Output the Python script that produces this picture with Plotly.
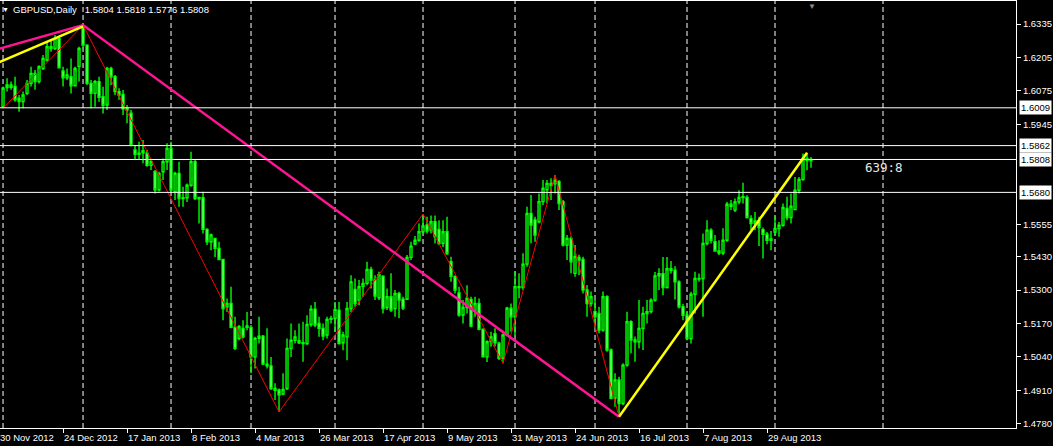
import plotly.graph_objects as go

# ---- data (bar index 0 = 3 Dec 2012, one bar per trading day) ----
opens = [1.6013, 1.6088, 1.6098, 1.6092, 1.6046, 1.6033, 1.6065, 1.6104, 1.6143, 1.6111,
         1.6162, 1.6195, 1.6247, 1.6240, 1.6279, 1.6152, 1.6126, 1.6130, 1.6095, 1.6170,
         1.6321, 1.6253, 1.6104, 1.6065, 1.6111, 1.6052, 1.6020, 1.6162, 1.6130, 1.6072,
         1.6061, 1.6007, 1.5988, 1.5845, 1.5828, 1.5834, 1.5832, 1.5785, 1.5760, 1.5690,
         1.5760, 1.5799, 1.5851, 1.5682, 1.5754, 1.5656, 1.5659, 1.5708, 1.5799, 1.5660,
         1.5659, 1.5536, 1.5488, 1.5501, 1.5462, 1.5419, 1.5235, 1.5248, 1.5155, 1.5112,
         1.5151, 1.5155, 1.5155, 1.5040, 1.5112, 1.5121, 1.5012, 1.5005, 1.4917, 1.4911,
         1.4895, 1.4917, 1.5073, 1.5105, 1.5103, 1.5095, 1.5092, 1.5166, 1.5226, 1.5170,
         1.5151, 1.5125, 1.5186, 1.5190, 1.5222, 1.5095, 1.5118, 1.5228, 1.5302, 1.5261,
         1.5315, 1.5326, 1.5380, 1.5339, 1.5270, 1.5354, 1.5232, 1.5274, 1.5228, 1.5287,
         1.5264, 1.5264, 1.5427, 1.5479, 1.5494, 1.5527, 1.5553, 1.5533, 1.5566, 1.5536,
         1.5481, 1.5527, 1.5410, 1.5352, 1.5289, 1.5203, 1.5232, 1.5263, 1.5222, 1.5248,
         1.5147, 1.5040, 1.5099, 1.5130, 1.5093, 1.5035, 1.5125, 1.5229, 1.5196, 1.5313,
         1.5310, 1.5401, 1.5598, 1.5573, 1.5566, 1.5644, 1.5690, 1.5715, 1.5713, 1.5722,
         1.5644, 1.5475, 1.5501, 1.5365, 1.5427, 1.5419, 1.5300, 1.5248, 1.5216, 1.5209,
         1.5144, 1.5274, 1.5067, 1.4880, 1.4950, 1.4859, 1.5008, 1.5177, 1.5106, 1.5099,
         1.5151, 1.5209, 1.5216, 1.5261, 1.5355, 1.5364, 1.5310, 1.5383, 1.5377, 1.5332,
         1.5235, 1.5202, 1.5111, 1.5284, 1.5345, 1.5345, 1.5481, 1.5533, 1.5488, 1.5452,
         1.5444, 1.5494, 1.5634, 1.5611, 1.5643, 1.5660, 1.5660, 1.5578, 1.5559, 1.5569,
         1.5535, 1.5517, 1.5494, 1.5526, 1.5539, 1.5552, 1.5617, 1.5582, 1.5613, 1.5688,
         1.5730, 1.5812, 1.5804]
highs = [1.6092, 1.6124, 1.6111, 1.6130, 1.6059, 1.6072, 1.6117, 1.6169, 1.6156, 1.6175,
         1.6214, 1.6266, 1.6273, 1.6292, 1.6286, 1.6169, 1.6162, 1.6201, 1.6169, 1.6247,
         1.6331, 1.6256, 1.6117, 1.6117, 1.6130, 1.6091, 1.6169, 1.6169, 1.6137, 1.6085,
         1.6078, 1.6020, 1.6000, 1.5864, 1.5877, 1.5884, 1.5845, 1.5806, 1.5767, 1.5760,
         1.5812, 1.5871, 1.5877, 1.5760, 1.5799, 1.5702, 1.5715, 1.5838, 1.5806, 1.5663,
         1.5682, 1.5540, 1.5520, 1.5503, 1.5488, 1.5422, 1.5267, 1.5313, 1.5196, 1.5164,
         1.5183, 1.5215, 1.5164, 1.5118, 1.5196, 1.5125, 1.5151, 1.5040, 1.4937, 1.4917,
         1.4976, 1.5112, 1.5170, 1.5144, 1.5170, 1.5177, 1.5202, 1.5241, 1.5254, 1.5196,
         1.5170, 1.5196, 1.5200, 1.5254, 1.5254, 1.5138, 1.5254, 1.5358, 1.5345, 1.5339,
         1.5345, 1.5410, 1.5391, 1.5358, 1.5371, 1.5358, 1.5306, 1.5365, 1.5300, 1.5293,
         1.5274, 1.5436, 1.5488, 1.5510, 1.5559, 1.5596, 1.5585, 1.5590, 1.5590, 1.5572,
         1.5572, 1.5585, 1.5430, 1.5358, 1.5313, 1.5261, 1.5319, 1.5274, 1.5274, 1.5267,
         1.5151, 1.5105, 1.5138, 1.5151, 1.5099, 1.5132, 1.5235, 1.5248, 1.5371, 1.5365,
         1.5443, 1.5624, 1.5670, 1.5585, 1.5676, 1.5728, 1.5728, 1.5735, 1.5748, 1.5728,
         1.5650, 1.5514, 1.5508, 1.5475, 1.5437, 1.5430, 1.5320, 1.5294, 1.5261, 1.5235,
         1.5294, 1.5280, 1.5073, 1.4976, 1.4963, 1.5015, 1.5216, 1.5183, 1.5119, 1.5261,
         1.5235, 1.5261, 1.5268, 1.5370, 1.5385, 1.5429, 1.5429, 1.5413, 1.5393, 1.5338,
         1.5247, 1.5215, 1.5293, 1.5371, 1.5364, 1.5520, 1.5572, 1.5540, 1.5514, 1.5494,
         1.5540, 1.5643, 1.5650, 1.5656, 1.5688, 1.5717, 1.5669, 1.5591, 1.5604, 1.5585,
         1.5543, 1.5526, 1.5530, 1.5587, 1.5565, 1.5637, 1.5663, 1.5676, 1.5740, 1.5740,
         1.5831, 1.5834, 1.5818]
lows = [1.6007, 1.6072, 1.6079, 1.6033, 1.5994, 1.6007, 1.6059, 1.6092, 1.6079, 1.6104,
        1.6156, 1.6188, 1.6227, 1.6234, 1.6162, 1.6092, 1.6117, 1.6065, 1.6092, 1.6111,
        1.6240, 1.6098, 1.6007, 1.6013, 1.6033, 1.5987, 1.6000, 1.6098, 1.6059, 1.6040,
        1.5981, 1.5949, 1.5858, 1.5806, 1.5806, 1.5793, 1.5780, 1.5767, 1.5676, 1.5683,
        1.5728, 1.5767, 1.5682, 1.5650, 1.5624, 1.5624, 1.5643, 1.5702, 1.5650, 1.5559,
        1.5520, 1.5475, 1.5455, 1.5429, 1.5417, 1.5183, 1.5215, 1.5151, 1.5067, 1.5105,
        1.5112, 1.5144, 1.4976, 1.4995, 1.5092, 1.5008, 1.4995, 1.4911, 1.4872, 1.4826,
        1.4891, 1.4911, 1.5040, 1.5092, 1.5090, 1.5021, 1.5086, 1.5157, 1.5155, 1.5118,
        1.5105, 1.5112, 1.5170, 1.5138, 1.5088, 1.5066, 1.5027, 1.5215, 1.5235, 1.5241,
        1.5274, 1.5319, 1.5306, 1.5261, 1.5261, 1.5209, 1.5222, 1.5215, 1.5196, 1.5190,
        1.5222, 1.5261, 1.5417, 1.5475, 1.5488, 1.5520, 1.5520, 1.5520, 1.5481, 1.5475,
        1.5468, 1.5436, 1.5332, 1.5287, 1.5196, 1.5170, 1.5209, 1.5155, 1.5196, 1.5144,
        1.5038, 1.5020, 1.5079, 1.5080, 1.5028, 1.5015, 1.5119, 1.5138, 1.5125, 1.5268,
        1.5300, 1.5391, 1.5482, 1.5488, 1.5560, 1.5631, 1.5637, 1.5650, 1.5676, 1.5611,
        1.5469, 1.5417, 1.5365, 1.5352, 1.5359, 1.5287, 1.5196, 1.5235, 1.5157, 1.5132,
        1.5138, 1.5060, 1.4875, 1.4846, 1.4807, 1.4853, 1.5002, 1.5054, 1.5021, 1.5073,
        1.5067, 1.5170, 1.5209, 1.5255, 1.5300, 1.5280, 1.5306, 1.5364, 1.5263, 1.5228,
        1.5183, 1.5105, 1.5092, 1.5209, 1.5332, 1.5196, 1.5474, 1.5481, 1.5449, 1.5436,
        1.5436, 1.5488, 1.5611, 1.5604, 1.5634, 1.5637, 1.5578, 1.5533, 1.5533, 1.5471,
        1.5423, 1.5478, 1.5455, 1.5513, 1.5507, 1.5546, 1.5572, 1.5559, 1.5611, 1.5676,
        1.5725, 1.5766, 1.5776]
closes = [1.6085, 1.6098, 1.6089, 1.6040, 1.6033, 1.6059, 1.6104, 1.6143, 1.6111, 1.6169,
          1.6201, 1.6247, 1.6240, 1.6279, 1.6165, 1.6126, 1.6137, 1.6095, 1.6162, 1.6240,
          1.6253, 1.6104, 1.6065, 1.6111, 1.6050, 1.6018, 1.6162, 1.6130, 1.6072, 1.6059,
          1.6005, 1.6000, 1.5864, 1.5828, 1.5832, 1.5842, 1.5785, 1.5799, 1.5690, 1.5754,
          1.5799, 1.5851, 1.5689, 1.5754, 1.5656, 1.5659, 1.5708, 1.5799, 1.5656, 1.5655,
          1.5536, 1.5488, 1.5514, 1.5462, 1.5419, 1.5228, 1.5248, 1.5155, 1.5073, 1.5157,
          1.5118, 1.5160, 1.5040, 1.5112, 1.5121, 1.5012, 1.5005, 1.4917, 1.4910, 1.4893,
          1.4913, 1.5073, 1.5105, 1.5118, 1.5095, 1.5092, 1.5166, 1.5226, 1.5164, 1.5151,
          1.5121, 1.5186, 1.5190, 1.5225, 1.5092, 1.5125, 1.5228, 1.5332, 1.5248, 1.5313,
          1.5326, 1.5380, 1.5339, 1.5277, 1.5360, 1.5228, 1.5274, 1.5222, 1.5287, 1.5261,
          1.5230, 1.5427, 1.5471, 1.5494, 1.5527, 1.5549, 1.5530, 1.5566, 1.5507, 1.5481,
          1.5527, 1.5442, 1.5354, 1.5300, 1.5203, 1.5232, 1.5267, 1.5160, 1.5248, 1.5147,
          1.5040, 1.5099, 1.5118, 1.5095, 1.5035, 1.5125, 1.5229, 1.5196, 1.5313, 1.5310,
          1.5401, 1.5598, 1.5553, 1.5514, 1.5644, 1.5696, 1.5715, 1.5708, 1.5726, 1.5637,
          1.5475, 1.5501, 1.5410, 1.5430, 1.5417, 1.5300, 1.5248, 1.5274, 1.5196, 1.5144,
          1.5274, 1.5067, 1.4879, 1.4950, 1.4859, 1.5008, 1.5177, 1.5106, 1.5099, 1.5151,
          1.5209, 1.5216, 1.5261, 1.5355, 1.5364, 1.5310, 1.5383, 1.5377, 1.5332, 1.5235,
          1.5202, 1.5111, 1.5284, 1.5345, 1.5343, 1.5481, 1.5533, 1.5494, 1.5452, 1.5444,
          1.5494, 1.5634, 1.5626, 1.5643, 1.5660, 1.5663, 1.5582, 1.5559, 1.5569, 1.5543,
          1.5517, 1.5494, 1.5499, 1.5539, 1.5552, 1.5621, 1.5582, 1.5626, 1.5688, 1.5730,
          1.5812, 1.5804, 1.5808]

label_bars = [-1, 15, 31, 47, 63, 79, 95, 111, 127, 143, 159, 175, 191]
label_texts = ["30 Nov 2012", "24 Dec 2012", "17 Jan 2013", "8 Feb 2013", "4 Mar 2013",
               "26 Mar 2013", "17 Apr 2013", "9 May 2013", "31 May 2013", "24 Jun 2013",
               "16 Jul 2013", "7 Aug 2013", "29 Aug 2013"]
separator_bars = [0, 20, 42, 62, 83, 105, 128, 148, 171, 193, 220]
price_ticks = [1.6335, 1.6205, 1.6075, 1.5945, 1.5555, 1.5430, 1.5300, 1.5170, 1.5040, 1.4910, 1.4780]
level_prices = [1.6009, 1.5862, 1.5808, 1.5680]

zigzag_bars = [0, 20, 69, 105, 125, 138, 154, 201]
zigzag_prices = [1.6007, 1.6331, 1.4826, 1.5596, 1.5015, 1.5748, 1.4807, 1.5834]
pink_bars = [-10, 20, 154]
pink_prices = [1.6199, 1.6331, 1.4807]
yellow_bars = [-10, 20, None, 154, 201]
yellow_prices = [1.6126, 1.6326, None, 1.4807, 1.5834]

title_text = "GBPUSD,Daily\u00a0\u00a0\u00a01.5804 1.5818 1.5776 1.5808"
timer_text = "639:8"

FONT = "Liberation Sans, Arial, sans-serif"
LIME = "#00FF00"

fig = go.Figure()
fig.add_trace(go.Candlestick(
    x=list(range(len(opens))), open=opens, high=highs, low=lows, close=closes,
    increasing=dict(line=dict(color=LIME, width=1.4), fillcolor="#000000"),
    decreasing=dict(line=dict(color=LIME, width=1.4), fillcolor="#FFFFFF"),
    whiskerwidth=0, showlegend=False, hoverinfo="skip"))
fig.add_trace(go.Scatter(x=zigzag_bars, y=zigzag_prices, mode="lines",
                         line=dict(color="#FF0000", width=1), showlegend=False, hoverinfo="skip"))
fig.add_trace(go.Scatter(x=pink_bars, y=pink_prices, mode="lines",
                         line=dict(color="#FF1493", width=2.5), showlegend=False, hoverinfo="skip"))
fig.add_trace(go.Scatter(x=yellow_bars, y=yellow_prices, mode="lines", connectgaps=False,
                         line=dict(color="#FFFF00", width=2.5), showlegend=False, hoverinfo="skip"))

shapes = []
for b in separator_bars:
    shapes.append(dict(type="line", xref="x", yref="paper", x0=b, x1=b, y0=0, y1=1,
                       line=dict(color="#FFFFFF", width=1, dash="5px,3px"), layer="below"))
for p in level_prices:
    shapes.append(dict(type="line", xref="paper", yref="y", x0=0, x1=1, y0=p, y1=p,
                       line=dict(color="#FFFFFF", width=1), layer="above"))

annotations = []
for b, t in zip(label_bars, label_texts):
    annotations.append(dict(x=b + 0.25, xref="x", y=0, yref="paper", text=t, showarrow=False,
                            xanchor="left", yanchor="top", xshift=-2, yshift=-2,
                            font=dict(family=FONT, size=9.5, color="#FFFFFF")))
for p in level_prices:
    annotations.append(dict(x=1, xref="paper", y=p, yref="y", text=f"{p:.4f}", showarrow=False,
                            xanchor="left", yanchor="middle", xshift=3, bgcolor="#FFFFFF",
                            borderpad=1, font=dict(family=FONT, size=9.5, color="#000000")))
annotations.append(dict(x=0, xref="paper", y=1, yref="paper", text="\u25BC", showarrow=False,
                        xanchor="left", yanchor="top", xshift=0, yshift=-3,
                        font=dict(family=FONT, size=7, color="#FFFFFF")))
annotations.append(dict(x=0, xref="paper", y=1, yref="paper", text=title_text, showarrow=False,
                        xanchor="left", yanchor="top", xshift=11, yshift=-1,
                        font=dict(family=FONT, size=9.5, color="#FFFFFF")))
annotations.append(dict(x=215, xref="x", y=1.5776, yref="y", text=timer_text, showarrow=False,
                        xanchor="left", yanchor="middle",
                        font=dict(family="DejaVu Sans Mono, monospace", size=12.5, color="#E8E8E8")))
annotations.append(dict(x=202.25, xref="x", y=1, yref="paper", text="\u25BC", showarrow=False,
                        xanchor="center", yanchor="top", yshift=1,
                        font=dict(family=FONT, size=8, color="#8C8C8C")))

fig.update_layout(
    width=1053, height=446, autosize=False,
    paper_bgcolor="#000000", plot_bgcolor="#000000",
    margin=dict(l=0, r=37, t=1, b=18, pad=0),
    showlegend=False, shapes=shapes, annotations=annotations,
    xaxis=dict(range=[-0.76, 253.25], showgrid=False, zeroline=False, showline=True,
               linecolor="#FFFFFF", linewidth=1, mirror=True,
               tickmode="array", tickvals=label_bars, ticks="outside", ticklen=4,
               tickcolor="#FFFFFF", tickwidth=1, showticklabels=False,
               rangeslider=dict(visible=False), fixedrange=True),
    yaxis=dict(side="right", range=[1.47634, 1.64245], showgrid=False, zeroline=False,
               showline=True, linecolor="#FFFFFF", linewidth=1,
               tickmode="array", tickvals=price_ticks, ticktext=[f"{v:.4f}" for v in price_ticks],
               ticks="outside", ticklen=4, tickcolor="#FFFFFF", tickwidth=1,
               tickfont=dict(family=FONT, size=9.5, color="#FFFFFF"),
               automargin=False, fixedrange=True),
)

fig.write_html(
    "out.html",
    config={"displayModeBar": False, "staticPlot": True},
    post_script="document.body.style.margin='0';document.body.style.background='#000';",
)
